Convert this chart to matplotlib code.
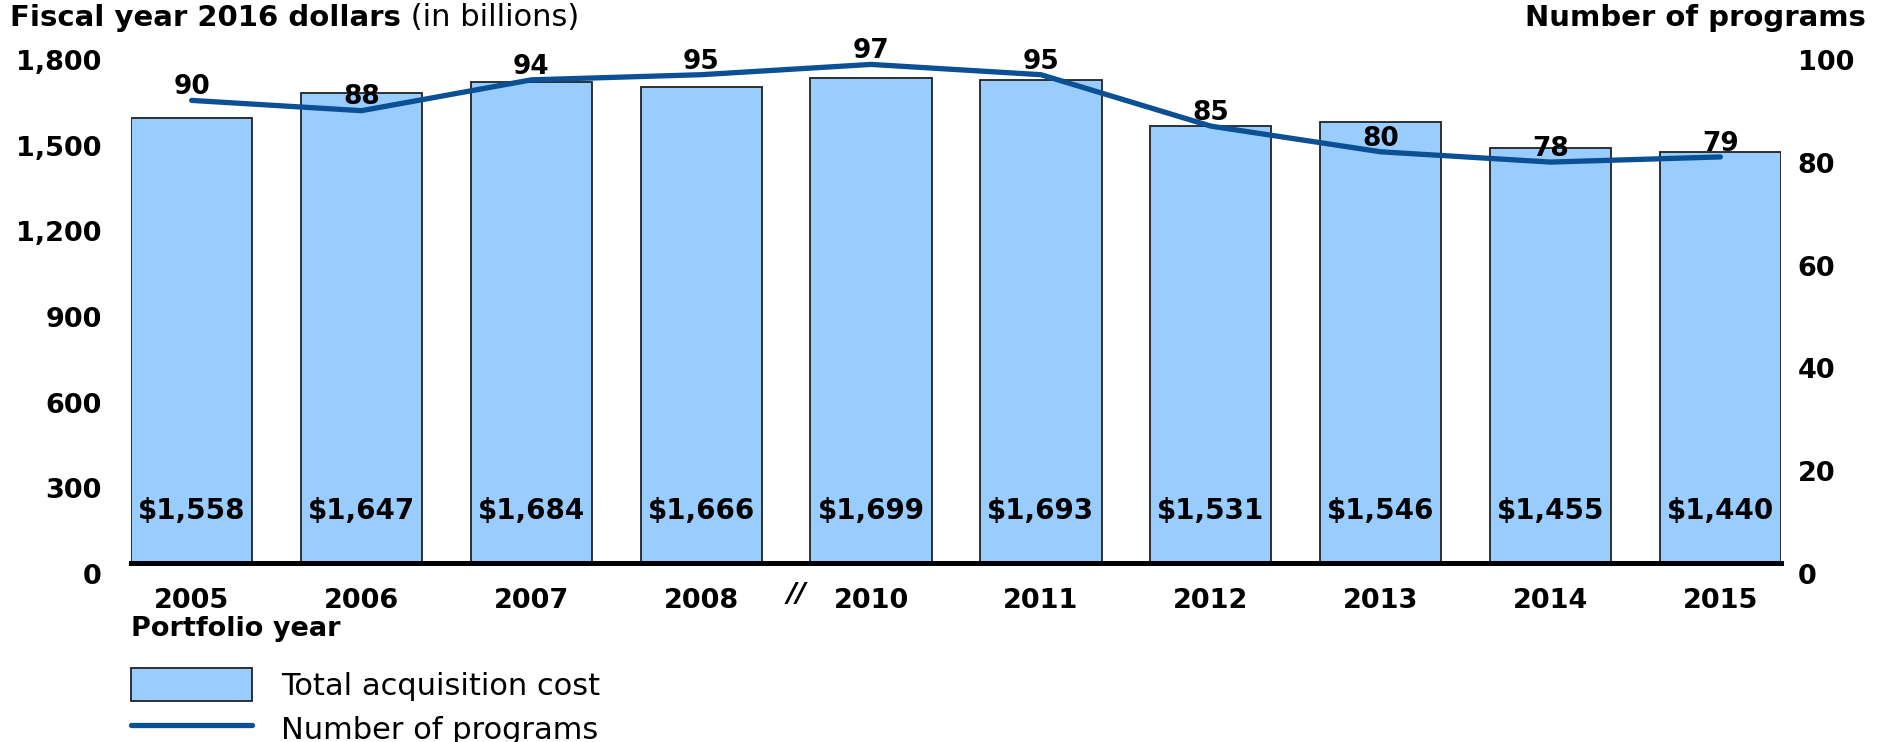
import matplotlib
matplotlib.use("Agg")
import matplotlib.pyplot as plt
from matplotlib.transforms import ScaledTranslation
from matplotlib.patches import Patch
from matplotlib.lines import Line2D

years = ["2005", "2006", "2007", "2008", "2010", "2011", "2012", "2013", "2014", "2015"]
cost = [1558, 1647, 1684, 1666, 1699, 1693, 1531, 1546, 1455, 1440]
cost_labels = ["$1,558", "$1,647", "$1,684", "$1,666", "$1,699", "$1,693", "$1,531", "$1,546", "$1,455", "$1,440"]
programs = [90, 88, 94, 95, 97, 95, 85, 80, 78, 79]
left_ticks = [0, 300, 600, 900, 1200, 1500, 1800]
right_ticks = [0, 20, 40, 60, 80, 100]

BAR = "#99CCFF"
LINE = "#0B4F94"
FS_TICK = 19.5
FS_BAR = 20
FS_LINE = 19
FS_TITLE = 21
FS_REG = 22
plt.rcParams["font.family"] = ["DejaVu Sans"]

fig = plt.figure(figsize=(19, 7.42), dpi=100)
ax = fig.add_axes([131/1900, 1-563/742, 1650/1900, (563-49)/742])
ax2 = ax.twinx()

x = list(range(len(years)))
w = 0.714
ax.bar(x, cost, width=w, color=BAR, edgecolor="#222222", linewidth=1.3, zorder=2)
ax.set_xlim(-w/2, len(years)-1+w/2)
ax.set_ylim(0, 1800)
ax2.set_ylim(0, 100)

for xi, lab in zip(x, cost_labels):
    ax.text(xi, 182, lab, ha="center", va="center", fontsize=FS_BAR, fontweight="bold", zorder=5)

ax2.plot(x, programs, color=LINE, linewidth=3.8, solid_capstyle="round", solid_joinstyle="round", zorder=4)
for xi, v in zip(x, programs):
    ax2.annotate(str(v), (xi, v), xytext=(0, 9.5), textcoords="offset points",
                 ha="center", va="center", fontsize=FS_LINE, fontweight="bold", zorder=6)

for a in (ax, ax2):
    for s in a.spines.values():
        s.set_visible(False)
ax.spines["bottom"].set_visible(True)
ax.spines["bottom"].set_linewidth(3.6)
ax.spines["bottom"].set_color("black")
ax.spines["bottom"].set_zorder(7)

ax.set_yticks(left_ticks)
ax.set_yticklabels([f"{t:,}" for t in left_ticks])
ax2.set_yticks(right_ticks)
ax2.set_yticklabels([str(t) for t in right_ticks])
ax.set_xticks(x)
ax.set_xticklabels(years)
ax.tick_params(axis="y", length=0, pad=21, labelsize=FS_TICK)
ax2.tick_params(axis="y", length=0, pad=12, labelsize=FS_TICK)
ax.tick_params(axis="x", length=0, pad=18, labelsize=FS_TICK)
off = ScaledTranslation(0, -0.11, fig.dpi_scale_trans)
for lab in ax.get_yticklabels() + ax2.get_yticklabels():
    lab.set_fontweight("bold")
    lab.set_transform(lab.get_transform() + off)
for lab in ax.get_xticklabels():
    lab.set_fontweight("bold")

# axis break marker
ax.text(3.56, -0.062, "//", transform=ax.get_xaxis_transform(), ha="center", va="center",
        fontsize=FS_TICK, fontweight="bold", fontstyle="italic")

ax.text(0, -0.128, "Portfolio year", transform=ax.transAxes, ha="left", va="center",
        fontsize=FS_TICK, fontweight="bold")

t1 = fig.text(10/1900, 1-18/742, "Fiscal year 2016 dollars", ha="left", va="center",
              fontsize=FS_TITLE, fontweight="bold")
fig.canvas.draw()
fig.text(0, 0, " (in billions)", ha="left", va="center", fontsize=FS_REG,
         transform=t1.get_transform() + ScaledTranslation(
             t1.get_window_extent().width/fig.dpi, 0, fig.dpi_scale_trans),
         position=t1.get_position())
fig.text(1866/1900, 1-18/742, "Number of programs", ha="right", va="center",
         fontsize=FS_TITLE, fontweight="bold")

handles = [Patch(facecolor=BAR, edgecolor="#222222", linewidth=1.3),
           Line2D([0], [0], color=LINE, linewidth=3.8, solid_capstyle="round")]
fig.legend(handles, ["Total acquisition cost", "Number of programs"],
           loc="upper left", bbox_to_anchor=(131/1900, 1-668/742), frameon=False,
           fontsize=FS_REG, handlelength=3.95, handleheight=1.3, handletextpad=0.95,
           labelspacing=0.35, borderpad=0, borderaxespad=0)

fig.savefig("out.png", dpi=100)
